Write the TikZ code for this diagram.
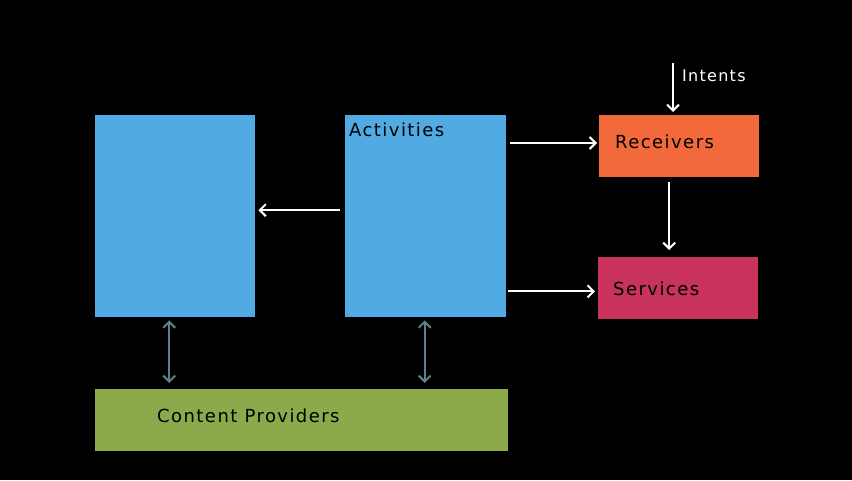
\documentclass[tikz,border=0pt]{standalone}
\usepackage{fontspec}
\setmainfont{DejaVu Sans}[LetterSpace=8]
\usetikzlibrary{arrows.meta}
\definecolor{actblue}{HTML}{52AAE2}
\definecolor{recorange}{HTML}{F2693C}
\definecolor{servred}{HTML}{C8335C}
\definecolor{cpgreen}{HTML}{8CAA4B}
\definecolor{dblgray}{HTML}{5F8088}
\begin{document}
\begin{tikzpicture}[x=1pt,y=-1pt,
  box/.style={rectangle,inner sep=0pt,anchor=north west,draw=none},
  lbl/.style={font=\fontsize{18}{20}\selectfont,text=black,anchor=west,inner sep=0pt},
  warrow/.style={draw=white,line width=2pt,-{Straight Barb[length=6pt,width=12pt,line width=2pt]}},
  garrow/.style={draw=dblgray,line width=2pt,{Straight Barb[length=6pt,width=12pt,line width=2pt]}-{Straight Barb[length=6pt,width=12pt,line width=2pt]}}]
\fill[black] (0,0) rectangle (852,480);
\useasboundingbox (0,0) rectangle (852,480);
% boxes
\node[box,fill=actblue,minimum width=160pt,minimum height=202pt] (left) at (95,115) {};
\node[box,fill=actblue,minimum width=161pt,minimum height=202pt] (act) at (345,115) {};
\node[box,fill=recorange,minimum width=160pt,minimum height=62pt] (rec) at (599,115) {};
\node[box,fill=servred,minimum width=160pt,minimum height=62pt] (serv) at (598,257) {};
\node[box,fill=cpgreen,minimum width=413pt,minimum height=62pt] (cp) at (95,389) {};
% labels
\node[lbl] (actl) at (349,130) {Activities};
\node[lbl] (recl) at (615,142) {Receivers};
\node[lbl] (servl) at (613,289) {Services};
\node[lbl] (cpl) at (157,416) {Content Providers};
\node[lbl,text=white,font=\fontsize{16}{18}\selectfont] (intl) at (682,76) {Intents};
% arrows
\coordinate (intstart) at (673,63);
\draw[warrow] (intstart) -- (673,112);
\draw[warrow] ([xshift=-5pt,yshift=6pt]act.west) -- ([xshift=3pt,yshift=6pt]left.east);
\draw[warrow] ([xshift=4pt,yshift=-28pt]act.north east) -- ([xshift=-2pt,yshift=-28pt]rec.north west);
\draw[warrow] ([xshift=2pt,yshift=26pt]act.south east) -- ([xshift=-3pt,yshift=28pt]serv.south west);
\draw[warrow] ([xshift=-10pt,yshift=-5pt]rec.south) -- ([xshift=-9pt,yshift=7pt]serv.north);
\draw[garrow] ([xshift=-6pt,yshift=-3pt]left.south) -- ([xshift=-6pt,yshift=6pt]left.south |- cp.north);
\draw[garrow] ([xshift=-1pt,yshift=-3pt]act.south) -- ([xshift=-1pt,yshift=6pt]act.south |- cp.north);
\end{tikzpicture}
\end{document}
